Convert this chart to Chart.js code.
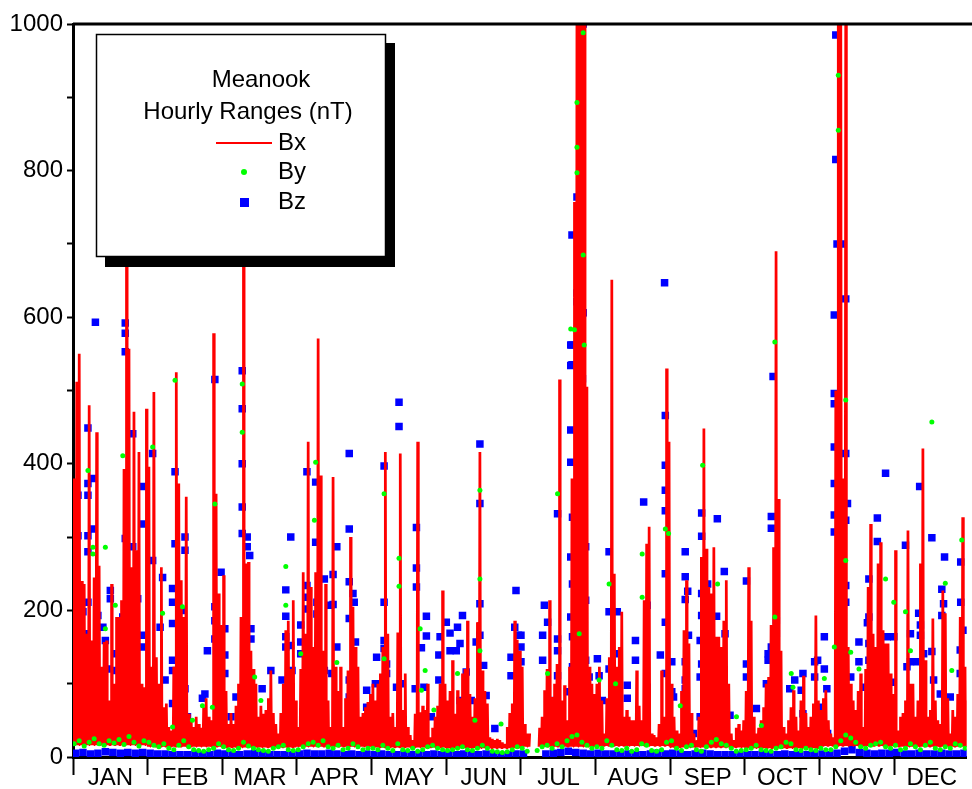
<!DOCTYPE html>
<html>
<head>
<meta charset="utf-8">
<title>Meanook Hourly Ranges</title>
<script src="https://cdn.jsdelivr.net/npm/chart.js@4.4.0/dist/chart.umd.min.js"></script>
<style>
  html, body { margin: 0; padding: 0; background: #fff; overflow: hidden; }
</style>
</head>
<body>
<canvas id="myChart" width="972" height="789"></canvas>
<script>
/* Meanook hourly ranges (nT), one year. x runs in "samples", 30 per month */
const monthLabels = ["JAN", "FEB", "MAR", "APR", "MAY", "JUN", "JUL", "AUG", "SEP", "OCT", "NOV", "DEC"];

// Bx: top of the red trace, 30 samples per month
const bxPeak = [
  380, 512, 550, 240, 236, 168, 480, 159, 245, 443, 261, 123, 157, 159, 77, 236, 100, 191, 191, 214, 393, 670, 557, 259, 471, 282, 416, 100, 95, 475,
  396, 123, 498, 136, 100, 259, 68, 73, 41, 36, 123, 525, 373, 241, 191, 355, 59, 50, 41, 55, 45, 40, 68, 80, 55, 50, 578, 359, 223, 180,
  248, 90, 45, 60, 45, 70, 100, 191, 670, 264, 266, 145, 120, 100, 55, 70, 59, 64, 80, 118, 60, 45, 32, 60, 100, 173, 186, 120, 214, 77,
  41, 120, 252, 168, 430, 232, 150, 252, 571, 384, 145, 236, 77, 41, 382, 123, 90, 123, 41, 80, 118, 300, 205, 150, 123, 55, 60, 68, 75, 86,
  100, 77, 100, 114, 150, 416, 168, 55, 60, 41, 170, 414, 64, 114, 41, 30, 23, 59, 430, 61, 70, 64, 100, 27, 40, 55, 70, 100, 227, 100,
  77, 90, 132, 59, 91, 80, 114, 120, 186, 86, 55, 80, 184, 416, 118, 90, 73, 27, 25, 23, 25, 23, 20, 18, 41, 60, 73, 186, 160, 145,
  123, 45, 32, 32, null, null, null, 40, 55, 91, 120, 214, 82, 100, 127, 515, 77, 98, 50, 123, 380, 757, 1050, 1050, 1050, 1050, 505, 123, 100, 86,
  100, 123, 77, 32, 80, 136, 651, 250, 123, 150, 198, 55, 64, 55, 50, 50, 118, 70, 50, 214, 291, 314, 32, 30, 27, 45, 118, 55, 530, 430,
  100, 55, 36, 32, 90, 173, 241, 155, 60, 32, 23, 55, 273, 448, 284, 232, 223, 286, 164, 164, 150, 186, 241, 100, 32, 23, 40, 45, 36, 50,
  90, 259, 186, 55, 32, 40, 50, 68, 100, 109, 180, 286, 690, 352, 145, 41, 32, 50, 68, 91, 55, 36, 77, 111, 60, 41, 55, 73, 193, 77,
  64, 80, 91, 50, 32, 27, 500, 1050, 1050, 380, 1050, 150, 100, 77, 64, 90, 114, 41, 120, 232, 318, 168, 150, 264, 293, 173, 155, 155, 114, 86,
  282, 36, 55, 60, 77, 309, 100, 100, 55, 77, 264, 421, 132, 55, 64, 189, 77, 50, 45, 227, 196, 80, 32, 64, 55, 86, 191, 327, 123, 77
];
// Bx: bottom of the red trace, one per month
const bxFloor = [16, 14, 13, 14, 13, 12, 14, 15, 13, 12, 15, 14];

// By: quiet green band, one value every 2 samples
const byBase = [
  18, 22, 15, 20, 25, 18, 16, 22, 19, 24, 17, 28, 20, 15, 22,
  20, 16, 14, 18, 12, 10, 16, 22, 14, 10, 9, 8, 10, 12, 18,
  14, 10, 9, 12, 20, 15, 12, 10, 9, 8, 12, 14, 16, 10, 9,
  10, 14, 18, 20, 16, 22, 14, 12, 16, 10, 12, 18, 14, 10, 12,
  12, 10, 16, 12, 9, 18, 10, 9, 12, 8, 10, 14, 16, 12, 10,
  9, 10, 12, 14, 10, 9, 12, 16, 12, 8, 7, 6, 7, 10, 14,
  12, 8, null, 9, 14, 16, 12, 18, 14, 22, 28, 30, 20, 16, 12,
  14, 12, 22, 16, 10, 9, 12, 8, 10, 18, 16, 9, 8, 10, 20,
  22, 12, 9, 14, 16, 10, 8, 14, 20, 24, 18, 16, 12, 8, 9,
  10, 12, 16, 10, 9, 8, 12, 14, 20, 18, 10, 9, 12, 10, 9,
  12, 10, 10, 14, 22, 30, 26, 20, 14, 12, 16, 18, 20, 14, 12,
  16, 10, 12, 18, 14, 10, 16, 20, 12, 10, 14, 12, 18, 16, 12
];
// By: isolated larger values [sample, nT]
const byHigh = [
  [32, 423], [8, 286], [8, 277], [13, 286], [17, 207], [13, 175], [36, 196], [44, 205], [48, 50], [20, 411], [6, 391], [41, 514], [57, 345], [52, 70], [56, 68], [40, 41],
  [85.5, 260], [85.5, 207], [106, 129], [97.5, 402], [68, 509], [68, 443], [91.5, 141], [75.5, 77], [73, 109], [97, 323],
  [125, 359], [131, 271], [131, 233], [163.5, 364], [163.5, 243], [139.5, 175], [141.5, 118], [154.5, 114], [145, 64], [172, 45], [163.5, 145], [125, 134], [140, 91], [161.5, 50],
  [194.7, 359], [215.4, 236], [228.7, 277], [228.7, 218], [200, 584], [205.4, 562], [203.4, 168], [211.4, 105], [190.7, 114], [238, 311], [218, 100],
  [205, 988], [202.5, 893], [202.5, 832], [202.5, 797], [205, 685], [201.5, 583],
  [259, 236], [282, 566], [288.6, 114], [289.3, 95], [266.6, 55], [276.6, 43], [244, 70], [239.3, 305], [282, 191], [253, 398],
  [345.1, 457], [326.5, 243], [329.8, 211], [334.5, 198], [350.5, 237], [353.1, 118], [312.5, 143], [315.8, 120], [301.9, 107], [336.5, 145], [357.1, 296], [305.9, 150], [310.5, 487], [310.5, 268],
  [307.5, 930], [307.5, 855]
];

// Bz: quiet blue band, one value every 3 samples
const bzBase = [
  5, 6, 4, 5, 7, 6, 5, 6, 5, 6,
  5, 4, 4, 3, 3, 3, 4, 3, 3, 5,
  4, 3, 3, 4, 5, 4, 3, 3, 3, 3,
  4, 5, 4, 4, 5, 4, 3, 4, 3, 4,
  3, 4, 3, 3, 4, 3, 3, 3, 4, 3,
  3, 3, 4, 3, 3, 4, 3, 2, 3, 4,
  4, null, null, 4, 5, 6, 8, 6, 5, 4,
  5, 4, 4, 3, 4, 3, 3, 4, 5, 4,
  5, 4, 3, 4, 5, 4, 3, 3, 3, 3,
  3, 3, 4, 3, 3, 4, 3, 3, 3, 4,
  4, 3, 5, 8, 10, 6, 5, 4, 5, 5,
  6, 4, 4, 5, 4, 4, 5, 4, 4, 5
];
// Bz: isolated larger values [sample, nT]
const bzHigh = [
  [9, 593], [21, 592], [21, 578], [21, 553], [6, 449], [24, 441], [32, 414], [41, 389], [57, 515], [6, 373], [8, 380], [2, 357], [6, 357], [28, 369], [2, 302], [6, 302],
  [8, 311], [6, 280], [21, 298], [24, 287], [28, 318], [32, 268], [36, 245], [41, 291], [45, 300], [45, 282], [15, 227], [15, 216], [1, 227], [6, 211], [4, 198], [10, 193],
  [12, 177], [20, 191], [26, 216], [28, 166], [28, 150], [35, 177], [40, 230], [40, 211], [40, 182], [44, 200], [13, 159], [17, 141], [14, 120], [5, 168], [40, 132], [40, 118],
  [37, 105], [45, 93], [54, 145], [57, 205], [57, 186], [57, 161], [52, 80], [53, 86], [46, 55], [32, 105], [32, 55], [40, 73], [9, 114], [17, 118], [21, 109], [2, 109],
  [68, 527], [68, 475], [68, 400], [68, 341], [68, 305], [70, 300], [70, 287], [71, 275], [87.5, 300], [111, 414], [111, 311], [94, 389], [97.5, 375], [97.5, 293], [106, 287],
  [101, 243], [104.5, 249], [104.5, 208], [111, 239], [112.5, 223], [113, 211], [111, 189], [85.5, 228], [85.5, 192], [87.5, 152], [85.5, 164], [85.5, 150], [91.5, 180],
  [94, 234], [94, 218], [94, 202], [98, 211], [98, 195], [103.5, 207], [106, 150], [113.5, 157], [91.5, 157], [91.5, 141], [79.5, 118], [76, 93], [71.5, 175], [71.5, 161],
  [59.5, 252], [61, 175], [61, 139], [61, 114], [65.5, 82], [63.5, 55], [84, 105], [88, 118], [101, 118], [104, 114], [106, 82], [111, 105], [111, 82], [118, 91], [118, 68], [95.5, 114],
  [131, 484], [131, 451], [125, 397], [163.5, 427], [163.5, 346], [138, 313], [138, 258], [138, 232], [125, 211], [142, 192], [142, 165], [140, 149], [150, 184], [151.5, 169],
  [154.5, 177], [156.5, 193], [147.5, 164], [163.5, 209], [163.5, 166], [125, 159], [125, 148], [122, 136], [126, 127], [126, 114], [121.5, 100], [151.5, 145], [154, 145],
  [155.5, 155], [147, 139], [147, 105], [158, 116], [162, 157], [165, 125], [178, 227], [177.5, 177], [179, 166], [176, 136], [176, 111], [137.5, 93], [141, 95], [130, 95],
  [132, 100], [144, 55], [166, 84], [169.5, 39], [155.5, 77], [160, 77],
  [180, 166], [180, 150], [180, 130], [189.4, 207], [190.7, 184], [188.7, 166], [194.7, 161], [194.7, 145], [194.7, 332], [188.7, 132], [194.7, 111], [192, 77], [198.7, 89],
  [200, 402], [200, 446], [200, 534], [200, 562], [200.7, 327], [200.7, 236], [204.7, 605], [204.7, 516], [204.7, 396], [204.7, 334], [204.7, 284], [205.4, 255], [204.7, 159],
  [206, 132], [207.4, 109], [210.7, 134], [211.4, 111], [215.4, 280], [215.4, 198], [218.7, 198], [219.4, 141], [222.7, 98], [222.7, 80], [215.4, 120], [226, 159], [226, 132],
  [229.3, 348], [230.7, 207], [236, 139], [238, 466], [238, 398], [238, 364], [238, 336], [238, 250], [238, 184], [238, 114], [200, 273], [200, 191], [200.7, 164], [206, 287],
  [206, 214], [200.7, 123], [230.7, 95], [212.7, 77],
  [205, 1000], [202.5, 764], [200.5, 712], [202.5, 633], [202.5, 621], [205, 606], [200.5, 562], [200.5, 535], [237.7, 647],
  [281.3, 519], [280.6, 328], [280.6, 312], [252.6, 333], [252.6, 301], [258.9, 325], [246, 280], [246, 246], [247, 226], [246, 215], [261.7, 253], [270.6, 240], [252.6, 223],
  [252.6, 193], [258.6, 192], [255, 236], [247.3, 166], [262, 168], [260.6, 141], [240.6, 130], [241.3, 82], [246, 130], [246, 105], [246, 93], [252, 159], [252.6, 127],
  [252, 109], [252, 55], [249.3, 32], [264, 57], [270.6, 127], [270.6, 109], [274.6, 66], [279.3, 141], [279.3, 132], [278.6, 100], [282.6, 186], [282.6, 168], [280.6, 150],
  [283.3, 132], [288, 93], [290, 105], [293.3, 114], [292.6, 91], [293.3, 59], [298, 130], [298, 109], [240.6, 89], [256.6, 132],
  [305.9, 603], [305.9, 496], [305.9, 482], [305.9, 423], [305.9, 373], [305.9, 330], [305.9, 307], [310.5, 414], [311.2, 346], [310.5, 323], [310.5, 234], [310.5, 211],
  [326.5, 387], [323.2, 326], [323.2, 294], [319.8, 243], [319.8, 191], [319.2, 183], [334.5, 289], [340.2, 369], [345.1, 299], [350.2, 273], [349.1, 229], [349.8, 209],
  [349.1, 193], [356.7, 266], [356.7, 211], [357.8, 173], [356.5, 146], [339.8, 196], [340.5, 180], [340.5, 166], [336.5, 168], [327.2, 164], [329.8, 164], [329.2, 102],
  [301.9, 164], [301.9, 120], [302.9, 93], [315.8, 157], [315.8, 130], [319.8, 155], [319.8, 132], [317.8, 95], [345.1, 144], [341.8, 141], [335.1, 123], [336.5, 130],
  [339.2, 130], [345.8, 105], [348.5, 86], [352.5, 82], [356.5, 114], [299.2, 132], [301.2, 68], [312.5, 109], [303.2, 32],
  [306.5, 985], [306.5, 815], [307, 700], [309.5, 700], [310.5, 625]
];

/* build the point lists, x in months */
const PER_MONTH = 30;
const bxData = [];
bxPeak.forEach(function (v, i) {
  if (v === null) { bxData.push({ x: i / PER_MONTH, y: null }); return; }
  const lo = bxFloor[Math.floor(i / PER_MONTH)];
  // the hourly trace swings floor -> peak several times inside one sample
  [0, 0.25, 0.5, 0.75].forEach(function (f, k) {
    bxData.push({ x: (i + f) / PER_MONTH, y: k % 2 ? v : lo });
  });
});
const byData = byBase.map(function (v, i) { return { x: (2 * i + 0.5) / PER_MONTH, y: v }; })
  .concat(byHigh.map(function (p) { return { x: p[0] / PER_MONTH, y: p[1] }; }));
const bzData = bzBase.map(function (v, i) { return { x: (3 * i + 1) / PER_MONTH, y: v }; })
  .concat(bzHigh.map(function (p) { return { x: p[0] / PER_MONTH, y: p[1] }; }));

const FONT = "'Liberation Sans', Arial, sans-serif";
Chart.defaults.font.family = FONT;
Chart.defaults.color = "#000";

/* boxed legend with a drop shadow + the top frame line */
const boxLegend = {
  id: "boxLegend",
  afterDraw: function (chart) {
    const ctx = chart.ctx;
    const area = chart.chartArea;
    ctx.save();
    ctx.strokeStyle = "#000";
    ctx.lineWidth = 3;
    ctx.beginPath();
    ctx.moveTo(area.left, area.top);
    ctx.lineTo(chart.width, area.top);
    ctx.stroke();

    ctx.fillStyle = "#000";
    ctx.fillRect(105, 43, 290, 224);
    ctx.fillStyle = "#fff";
    ctx.fillRect(96, 34, 290, 223);
    ctx.lineWidth = 1.5;
    ctx.strokeRect(96.5, 34.5, 289, 222);

    ctx.fillStyle = "#000";
    ctx.font = "24px " + FONT;
    ctx.textBaseline = "middle";
    ctx.textAlign = "center";
    ctx.fillText("Meanook", 261, 80);
    ctx.fillText("Hourly Ranges (nT)", 248, 112);
    ctx.textAlign = "left";
    ctx.fillText("Bx", 278, 143);
    ctx.fillText("By", 278, 172);
    ctx.fillText("Bz", 278, 202);

    ctx.strokeStyle = "#ff0000";
    ctx.lineWidth = 2;
    ctx.beginPath();
    ctx.moveTo(216, 143);
    ctx.lineTo(272, 143);
    ctx.stroke();
    ctx.fillStyle = "#00ff00";
    ctx.beginPath();
    ctx.arc(244, 172, 3, 0, Math.PI * 2);
    ctx.fill();
    ctx.fillStyle = "#0000ff";
    ctx.fillRect(240, 198, 9, 9);
    ctx.restore();
  }
};

const config = {
  type: "line",
  data: {
    datasets: [
      {
        label: "By",
        data: byData,
        showLine: false,
        pointRadius: 2.5,
        pointBackgroundColor: "#00ff00",
        pointBorderWidth: 0,
        order: 0,
        clip: 0
      },
      {
        label: "Bx",
        data: bxData,
        borderColor: "#ff0000",
        borderWidth: 1.5,
        borderJoinStyle: "bevel",
        pointRadius: 0,
        tension: 0,
        spanGaps: false,
        order: 1,
        clip: 0
      },
      {
        label: "Bz",
        data: bzData,
        showLine: false,
        pointStyle: "rect",
        pointRadius: 5.3,
        pointBackgroundColor: "#0000ff",
        pointBorderWidth: 0,
        order: 2,
        clip: 0
      }
    ]
  },
  options: {
    responsive: false,
    animation: false,
    events: [],
    layout: { padding: { top: 24, left: 0, right: 0, bottom: 0 } },
    plugins: { legend: { display: false }, tooltip: { enabled: false } },
    scales: {
      x: {
        type: "linear",
        min: 0,
        max: 11.97,
        afterFit: function (scale) { scale.height = 32; },
        ticks: {
          stepSize: 1,
          includeBounds: false,
          autoSkip: false,
          maxRotation: 0,
          labelOffset: 37.5,
          padding: -11,
          font: { size: 24 },
          callback: function (v) { return monthLabels[v] || ""; }
        },
        grid: { drawOnChartArea: false, tickLength: 18, tickColor: "#000", tickWidth: 2 },
        border: { color: "#000", width: 3 }
      },
      y: {
        min: 0,
        max: 1000,
        afterFit: function (scale) { scale.width = 73; },
        ticks: {
          stepSize: 100,
          padding: 4,
          font: { size: 24 },
          callback: function (v) { return v % 200 === 0 ? v : ""; }
        },
        grid: { drawOnChartArea: false, tickLength: 6, tickColor: "#000", tickWidth: 2 },
        border: { color: "#000", width: 3 }
      }
    }
  },
  plugins: [boxLegend]
};

var myChart = new Chart(document.getElementById("myChart"), config);
</script>
</body>
</html>
